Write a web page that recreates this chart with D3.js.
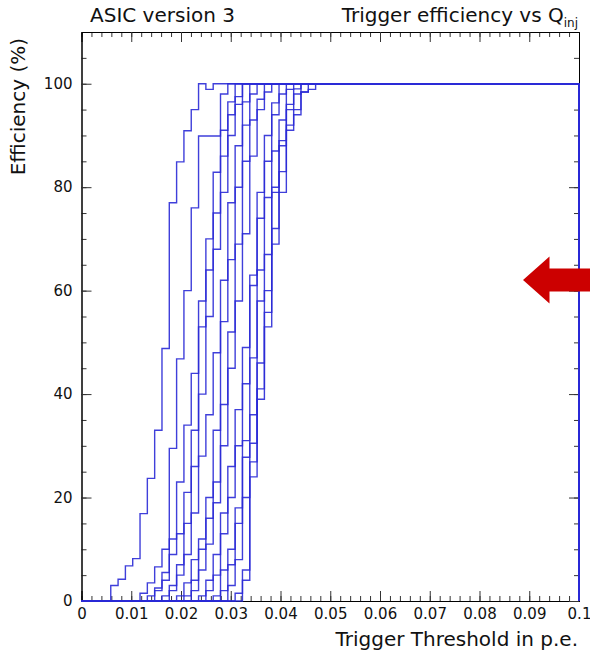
<!DOCTYPE html>
<html><head><meta charset="utf-8">
<script src="https://cdn.jsdelivr.net/npm/d3@7"></script>
<style>body{margin:0;background:#fff} svg{display:block}</style>
</head><body><svg id="c" width="590" height="655"></svg>
<script>
// ---- data ----
const nBins = 68;            // histogram bins between 0 and xMax
const xMax = 0.1;
const yMax = 110;
const xMajorTicks = [0, 0.01, 0.02, 0.03, 0.04, 0.05, 0.06, 0.07, 0.08, 0.09, 0.1];
const yMajorTicks = [0, 20, 40, 60, 80, 100];
// first non-empty bin of each channel; bins before are 0, bins after the list are 100
const chStart = [4, 8, 9, 10, 11, 12, 13, 14, 15, 16, 17, 18, 19, 20, 21, 22];
const ch01 = [3, 4.2, 6.8, 8.2, 16.9, 23.7, 33, 48.8, 77, 84.9, 90.9, 95, 100, 98.9];
const ch02 = [1.5, 3.5, 6.6, 10, 29.5, 46.8, 60, 76, 89.9, 89.9, 89.9, 91, 96.5];
const ch03 = [1, 2.5, 5.5, 12, 23, 34, 44, 58, 70, 82.9, 98];
const ch04 = [2, 4, 9, 13, 21, 33, 53, 64, 75, 86, 94, 97.5];
const ch05 = [1, 3, 7, 15, 26, 40, 55, 68, 79, 90, 96];
const ch06 = [2, 5, 9, 17, 28, 36, 48, 62, 77, 88, 96.5];
const ch07 = [1, 3.5, 8, 12, 20, 33, 54, 66, 80, 92, 98];
const ch08 = [1, 4, 10, 16, 23, 38, 52, 69, 85, 93, 97];
const ch09 = [2, 6, 11, 19, 30, 45, 58, 71, 86, 95, 98.4];
const ch10 = [1, 4, 9, 17, 26, 37, 49, 63, 79, 90, 96.3];
const ch11 = [2, 5, 13, 20, 30, 42, 61, 74, 85, 94, 98];
const ch12 = [1, 6, 10, 18, 31, 47, 64, 78, 87, 93, 98.9];
const ch13 = [2, 7, 15, 27.8, 36, 58, 67, 80, 89, 96, 99];
const ch14 = [3, 8, 20, 26.9, 41, 53, 69, 83, 91, 95, 98.4];
const ch15 = [1.5, 6, 30.5, 46, 60, 72, 88, 95, 98];
const ch16 = [4, 24, 39, 55.8, 79, 79, 92, 94, 98.4, 98.9];
const channels = [ch01, ch02, ch03, ch04, ch05, ch06, ch07, ch08, ch09, ch10, ch11, ch12, ch13, ch14, ch15, ch16];

// ---- chart ----
const svg = d3.select("#c");
const x = d3.scaleLinear().domain([0, xMax]).range([81.5, 579]);
const y = d3.scaleLinear().domain([0, yMax]).range([601, 32]);
const font = "DejaVu Sans, sans-serif";

const xMinor = d3.range(0, xMax + 1e-9, xMax / 50);
const yMinor = d3.range(0, yMax + 1e-9, 5);

function styleAxis(g) {
  g.selectAll("path").attr("stroke", "#000").attr("stroke-width", 1);
  g.selectAll("line").attr("stroke", "#333").attr("stroke-width", 1);
  g.selectAll("text").attr("font-family", font).attr("font-size", 15).attr("fill", "#111");
}
// minor ticks
svg.append("g").attr("transform", `translate(0,${y(0)})`)
  .call(d3.axisBottom(x).tickValues(xMinor).tickSize(-5).tickFormat(""))
  .call(styleAxis);
svg.append("g").attr("transform", `translate(0,${y(yMax)})`)
  .call(d3.axisTop(x).tickValues(xMinor).tickSize(-5).tickFormat(""))
  .call(styleAxis);
svg.append("g").attr("transform", `translate(${x(0)},0)`)
  .call(d3.axisLeft(y).tickValues(yMinor).tickSize(-5).tickFormat(""))
  .call(styleAxis);
svg.append("g").attr("transform", `translate(${x(xMax)},0)`)
  .call(d3.axisRight(y).tickValues(yMinor).tickSize(-5).tickFormat(""))
  .call(styleAxis);
// major ticks + labels
svg.append("g").attr("transform", `translate(0,${y(0)})`)
  .call(d3.axisBottom(x).tickValues(xMajorTicks).tickSize(-10).tickPadding(7)
    .tickFormat(d => d === 0 ? "0" : d3.format(".2~f")(d)))
  .call(styleAxis);
svg.append("g").attr("transform", `translate(0,${y(yMax)})`)
  .call(d3.axisTop(x).tickValues(xMajorTicks).tickSize(-10).tickFormat(""))
  .call(styleAxis);
svg.append("g").attr("transform", `translate(${x(0)},0)`)
  .call(d3.axisLeft(y).tickValues(yMajorTicks).tickSize(-10).tickPadding(9))
  .call(styleAxis);
svg.append("g").attr("transform", `translate(${x(xMax)},0)`)
  .call(d3.axisRight(y).tickValues(yMajorTicks).tickSize(-10).tickFormat(""))
  .call(styleAxis);

// curves (histogram outlines)
const edge = k => k * xMax / nBins;
const line = d3.line().x(d => x(d[0])).y(d => y(d[1])).curve(d3.curveStepAfter);
channels.forEach((vals, i) => {
  const s = chStart[i];
  const bins = d3.range(nBins).map(k => k < s ? 0 : (k - s < vals.length ? vals[k - s] : 100));
  const pts = bins.map((v, k) => [edge(k), v]);
  pts.push([xMax, bins[nBins - 1]]);
  pts.push([xMax, 0]);
  svg.append("path").attr("d", line(pts))
    .attr("fill", "none").attr("stroke", "#2a2ad6").attr("stroke-width", 1.4)
    .attr("stroke-opacity", 0.9);
});

// titles
svg.append("text").attr("x", 90).attr("y", 22).attr("font-family", font).attr("font-size", 20)
  .attr("fill", "#111").text("ASIC version 3");
const t2 = svg.append("text").attr("x", 578).attr("y", 22).attr("text-anchor", "end")
  .attr("font-family", font).attr("font-size", 20).attr("fill", "#111");
t2.append("tspan").text("Trigger efficiency vs Q");
t2.append("tspan").attr("font-size", 12).attr("dy", 5).text("inj");

svg.append("text").attr("x", 578).attr("y", 646).attr("text-anchor", "end")
  .attr("font-family", font).attr("font-size", 20).attr("fill", "#111").text("Trigger Threshold in p.e.");
svg.append("text").attr("transform", "translate(25,38) rotate(-90)").attr("text-anchor", "end")
  .attr("font-family", font).attr("font-size", 20).attr("fill", "#111").text("Efficiency (%)");

// red arrow annotation
svg.append("path")
  .attr("d", "M523,280 L549.5,256.5 L549.5,268.5 L592,268.5 L592,291.5 L549.5,291.5 L549.5,303.5 Z")
  .attr("fill", "#cc0000");
</script></body></html>
